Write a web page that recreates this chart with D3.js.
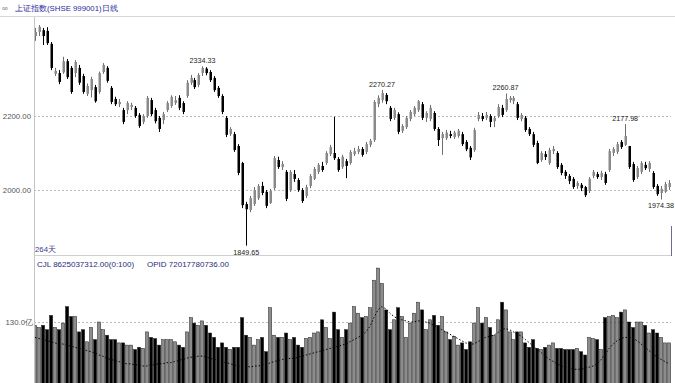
<!DOCTYPE html>
<html><head><meta charset="utf-8">
<script src="https://cdn.jsdelivr.net/npm/d3@7"></script>
<style>
html,body{margin:0;padding:0;background:#fff;overflow:hidden}
svg{display:block}
text{font-family:"Liberation Sans",Arial,sans-serif}
</style></head>
<body><svg id="c" width="675" height="383"></svg>
<script>
// ---------- data (index prices, volumes in 亿) ----------
const opens  = [2416,2427,2432,2430,2395,2314,2316,2318,2348,2330,2316,2330,2308,2260,2270,2278,2265,2319,2330,2276,
                2246,2232,2216,2216,2224,2222,2203,2184,2200,2243,2216,2195,2189,2216,2227,2235,2249,2235,2254,2290,
                2297,2284,2316,2328,2319,2303,2276,2254,2195,2151,2151,2119,2073,1962,1946,1962,1978,2011,1995,1965,
                2005,2081,2062,2049,2000,2043,2027,2000,1984,2011,2030,2049,2065,2073,2097,2100,2084,2062,2078,2073,
                2097,2103,2111,2103,2122,2135,2232,2243,2257,2222,2195,2205,2160,2170,2192,2205,2216,2232,2195,2192,
                2208,2165,2140,2140,2151,2143,2146,2151,2130,2114,2108,2192,2200,2195,2200,2186,2200,2222,2216,2243,
                2240,2232,2192,2195,2165,2151,2127,2081,2097,2073,2105,2100,2068,2049,2038,2030,2011,2014,2008,1997,
                2038,2043,2035,2043,2054,2100,2103,2130,2122,2119,2070,2035,2049,2068,2057,2046,2011,1992,1995,2008];
const closes = [2427,2441,2416,2397,2330,2322,2292,2348,2305,2265,2346,2290,2265,2281,2300,2240,2316,2338,2295,2238,
                2232,2238,2184,2235,2230,2200,2173,2200,2249,2205,2186,2165,2205,2235,2252,2243,2222,2211,2290,2303,
                2278,2311,2330,2316,2297,2270,2254,2211,2149,2165,2108,2046,1959,1948,1978,2000,2011,1992,1957,1997,
                2086,2062,2070,1976,2049,2030,2000,1970,2008,2038,2057,2068,2054,2100,2116,2086,2054,2090,2065,2103,
                2105,2111,2095,2124,2133,2238,2249,2262,2240,2192,2216,2157,2173,2195,2211,2222,2240,2195,2208,2222,
                2165,2135,2151,2155,2146,2155,2160,2124,2110,2088,2162,2203,2192,2203,2184,2195,2224,2203,2246,2249,
                2249,2195,2203,2162,2151,2122,2073,2100,2089,2108,2111,2062,2046,2038,2024,2008,2019,2005,1986,2030,
                2049,2035,2046,2019,2105,2111,2124,2116,2146,2062,2027,2059,2073,2059,2073,2008,1989,2003,2016,2019];
const highs  = [2438,2446,2438,2440,2400,2330,2324,2360,2354,2335,2351,2338,2314,2288,2306,2284,2320,2343,2335,2281,
                2252,2246,2222,2240,2236,2227,2208,2205,2254,2249,2222,2200,2211,2240,2256,2254,2256,2240,2297,2311,
                2303,2316,2334.33,2332,2324,2308,2281,2259,2200,2170,2157,2124,2076,1968,1984,2008,2016,2022,2000,2003,
                2092,2090,2078,2054,2054,2054,2032,2005,2014,2043,2062,2073,2076,2105,2122,2198,2089,2095,2084,2108,
                2114,2119,2116,2130,2138,2243,2256,2270.27,2262,2227,2222,2210,2178,2200,2216,2227,2243,2238,2213,2230,
                2213,2170,2157,2162,2160,2160,2165,2157,2135,2119,2168,2211,2208,2211,2205,2200,2232,2230,2260.87,2254,
                2254,2238,2208,2200,2170,2157,2133,2105,2105,2114,2119,2105,2073,2054,2043,2035,2024,2019,2011,2035,
                2054,2049,2052,2049,2111,2116,2130,2135,2177.98,2108,2076,2065,2078,2076,2078,2051,2016,2011,2022,2027];
const lows   = [2403,2416,2392,2392,2324,2308,2286,2314,2300,2260,2305,2284,2260,2254,2250,2236,2260,2314,2290,2232,
                2227,2224,2178,2205,2216,2195,2168,2178,2195,2200,2180,2157,2178,2211,2222,2230,2216,2205,2249,2284,
                2273,2278,2308,2310,2292,2265,2249,2205,2143,2146,2103,2040,1951,1849.65,1940,1957,1973,1986,1951,1962,
                2000,2057,2054,1970,1995,2022,1995,1965,1978,2005,2027,2043,2049,2068,2092,2081,2049,2057,2032,2068,
                2092,2097,2090,2097,2116,2130,2224,2236,2232,2186,2189,2151,2154,2165,2186,2200,2211,2189,2184,2186,
                2160,2119,2095,2135,2140,2138,2141,2119,2105,2081,2103,2186,2186,2189,2170,2170,2195,2197,2211,2236,
                2232,2189,2186,2157,2146,2116,2070,2076,2081,2068,2097,2057,2040,2030,2016,2003,2003,1997,1981,1992,
                2032,2030,2027,2014,2049,2092,2097,2111,2119,2057,2022,2030,2043,2054,2049,2003,1984,1974.38,1992,2000];
const volumes = [127,125,127,123,136,125,123,129,144,135,135,121,123,112,125,114,130,123,118,114,
                 114,111,111,109,109,105,107,106,121,116,115,109,114,114,114,112,109,107,121,134,
                 129,127,131,127,120,116,107,111,107,105,107,107,134,118,116,109,114,116,103,143,
                 118,116,116,120,114,116,109,107,115,116,120,121,132,125,115,139,123,116,123,129,
                 144,138,134,135,143,168,179,165,141,123,132,143,135,116,129,138,148,141,123,132,
                 136,127,135,121,114,117,109,111,105,112,129,143,129,134,125,118,132,148,141,121,
                 114,121,121,111,107,114,106,105,107,109,111,106,106,105,105,105,106,103,100,116,
                 115,114,105,134,135,136,134,139,141,130,125,130,130,127,120,123,120,116,111,111];
const opid = [116,115,114,113,112,111,110,110,109,108,107,106,105,104,103,102,100,99,97,96,
              95,94,93,92,92,91,91,90,90,91,91,92,92,93,93,94,95,96,97,98,
              98,99,99,98,97,96,95,94,93,92,91,90,90,90,89,90,90,91,91,93,
              94,95,96,96,97,97,98,99,100,101,102,103,104,105,106,107,108,109,110,112,
              114,116,118,121,126,134,141,144,142,138,135,133,132,131,130,130,131,131,130,129,
              127,125,123,121,119,117,115,113,111,110,110,112,114,116,117,118,120,123,124,123,
              121,119,117,114,111,108,105,102,99,96,94,92,90,89,88,87,87,87,88,89,
              90,92,96,101,106,110,113,115,116,116,115,113,110,107,104,101,98,96,94,92];
const priceTicks = [2000, 2200];
const priceTickLabels = ["2000.00", "2200.00"];
const volTicks = [130];
const volTickLabels = ["130.0亿"];
const peakLabels = [
  {i: 42, v: 2334.33, t: "2334.33", side: "high"},
  {i: 87, v: 2270.27, t: "2270.27", side: "high"},
  {i: 118, v: 2260.87, t: "2260.87", side: "high"},
  {i: 148, v: 2177.98, t: "2177.98", side: "high"},
  {i: 53, v: 1849.65, t: "1849.65", side: "low"},
  {i: 157, v: 1974.38, t: "1974.38", side: "low"}
];
const titleText = "上证指数(SHSE 999001)日线";
const dayText = "264天";
const infoCJL = "CJL 8625037312.00(0:100)";
const infoOPID = "OPID 72017780736.00";

// ---------- drawing ----------
const svg = d3.select("#c");
const W = 675, H = 383;
const axisX = 34, rightX = 671;
const N = closes.length;
const x = d3.scaleBand().domain(d3.range(N)).range([33, 671]).paddingInner(0);
const cx = i => x(i) + x.bandwidth() / 2;
const y = d3.scaleLinear().domain([2000, 2200]).range([190, 116]);
const yv = d3.scaleLinear().domain([0, 180]).range([465, 267]);

const defs = svg.append("defs");
defs.append("clipPath").attr("id", "cp").append("rect").attr("x", axisX + 1).attr("y", 17).attr("width", rightX - axisX - 1).attr("height", 238);
defs.append("clipPath").attr("id", "cv").append("rect").attr("x", axisX + 1).attr("y", 257).attr("width", rightX - axisX - 1).attr("height", 130);

// title bar
svg.append("text").attr("x", 2).attr("y", 11).attr("font-size", 8).attr("fill", "#777").text("∞");
svg.append("text").attr("x", 15).attr("y", 11).attr("font-size", 7.8).attr("fill", "#2b2b9a").text(titleText);
svg.append("line").attr("x1", 0).attr("x2", W).attr("y1", 16.5).attr("y2", 16.5).attr("stroke", "#d8d8d8");

// grid lines
const gridStyle = sel => sel.attr("stroke", "#b8b8b8").attr("stroke-dasharray", "2,2").attr("stroke-width", 1);
svg.append("g").selectAll("line").data(priceTicks).join("line")
  .attr("x1", axisX).attr("x2", rightX).attr("y1", d => Math.round(y(d)) + 0.5).attr("y2", d => Math.round(y(d)) + 0.5).call(gridStyle);
svg.append("g").selectAll("line").data(volTicks).join("line")
  .attr("x1", axisX).attr("x2", rightX).attr("y1", d => Math.round(yv(d)) + 0.5).attr("y2", d => Math.round(yv(d)) + 0.5).call(gridStyle);

// axis labels
svg.append("g").selectAll("text").data(priceTicks).join("text")
  .attr("x", 31).attr("y", d => y(d) + 3).attr("text-anchor", "end").attr("font-size", 7.8).attr("fill", "#555")
  .text((d, k) => priceTickLabels[k]);
svg.append("g").selectAll("text").data(volTicks).join("text")
  .attr("x", 33).attr("y", d => yv(d) + 3).attr("text-anchor", "end").attr("font-size", 7.8).attr("fill", "#555")
  .text((d, k) => volTickLabels[k]);

// left axis line and panel separator
svg.append("line").attr("x1", axisX + 0.5).attr("x2", axisX + 0.5).attr("y1", 17).attr("y2", H).attr("stroke", "#c4c4c4");
svg.append("line").attr("x1", axisX).attr("x2", rightX + 1).attr("y1", 255.5).attr("y2", 255.5).attr("stroke", "#cfcfcf");
svg.append("line").attr("x1", rightX + 0.5).attr("x2", rightX + 0.5).attr("y1", 226).attr("y2", 256).attr("stroke", "#6b6b95");

// candles
const isUp = i => closes[i] >= opens[i];
const upCol = "#8a8a8a", dnCol = "#000";
const gc = svg.append("g").attr("clip-path", "url(#cp)");
gc.selectAll("line.w").data(d3.range(N)).join("line")
  .attr("x1", i => Math.round(cx(i)) + 0.5).attr("x2", i => Math.round(cx(i)) + 0.5)
  .attr("y1", i => y(highs[i])).attr("y2", i => y(lows[i]))
  .attr("stroke", i => isUp(i) ? "#6e6e6e" : dnCol).attr("stroke-width", 1);
gc.selectAll("rect").data(d3.range(N)).join("rect")
  .attr("x", i => Math.round(cx(i)) - 0.5).attr("width", 2.5)
  .attr("y", i => y(Math.max(opens[i], closes[i])))
  .attr("height", i => Math.max(1, Math.abs(y(opens[i]) - y(closes[i]))))
  .attr("fill", i => isUp(i) ? upCol : dnCol);

// peak labels
svg.append("g").selectAll("text").data(peakLabels).join("text")
  .attr("x", d => cx(d.i)).attr("y", d => d.side === "high" ? y(d.v) - 3 : y(d.v) + 9)
  .attr("text-anchor", "middle").attr("font-size", 7.2).attr("fill", "#222").text(d => d.t);

svg.append("text").attr("x", 35).attr("y", 252).attr("font-size", 7.8).attr("fill", "#3a3a8a").text(dayText);

// volume panel
svg.append("text").attr("x", 37).attr("y", 267).attr("font-size", 8).attr("fill", "#2b2b7a").text(infoCJL);
svg.append("text").attr("x", 147).attr("y", 267).attr("font-size", 8).attr("fill", "#2b2b7a").text(infoOPID);

const gv = svg.append("g").attr("clip-path", "url(#cv)");
gv.selectAll("rect").data(d3.range(N)).join("rect")
  .attr("x", i => Math.round(cx(i)) - 1.5).attr("width", 3.2)
  .attr("y", i => yv(volumes[i])).attr("height", i => yv(0) - yv(volumes[i]))
  .attr("fill", i => isUp(i) ? "#8c8c8c" : "#000")
  .attr("stroke", "#222").attr("stroke-width", 0.5);
gv.append("path").datum(d3.range(N))
  .attr("d", d3.line().x(i => cx(i)).y(i => yv(opid[i])))
  .attr("fill", "none").attr("stroke", "#000").attr("stroke-width", 1).attr("stroke-dasharray", "1.5,2");
</script></body></html>
